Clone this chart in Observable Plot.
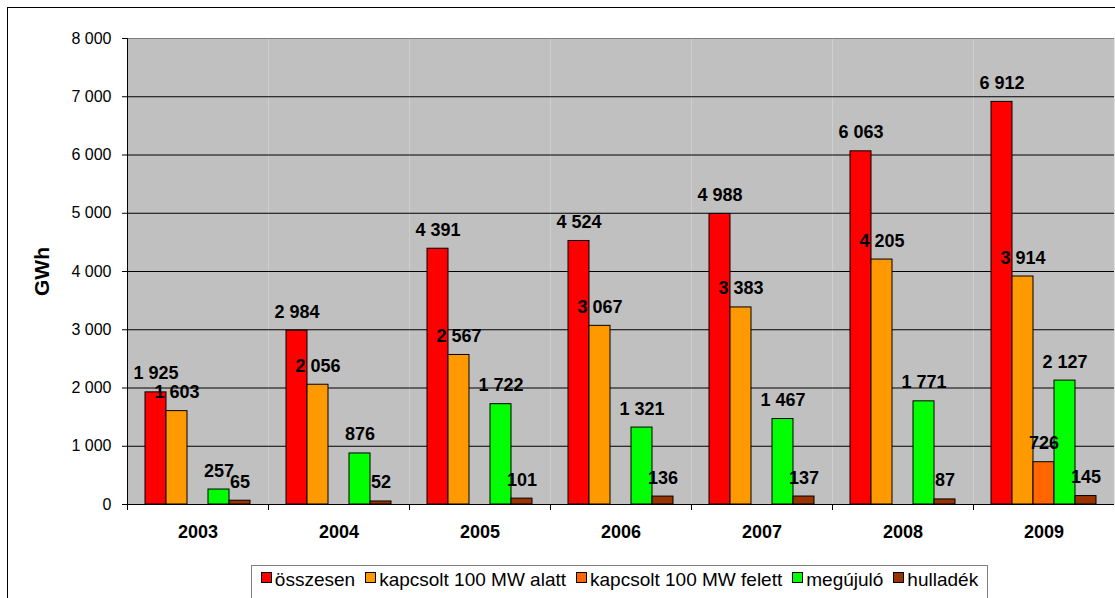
<!DOCTYPE html>
<html><head><meta charset="utf-8">
<script src="https://cdn.jsdelivr.net/npm/d3@7"></script>
<script src="https://cdn.jsdelivr.net/npm/@observablehq/plot@0.6"></script>
<style>
html,body{margin:0;padding:0;background:#fff;overflow:hidden;width:1115px;height:598px;}
#border{position:absolute;left:7px;top:7px;width:1300px;height:800px;border-left:1px solid #000;border-top:1px solid #000;}
#chart{position:absolute;left:0;top:0;}
#legend{position:absolute;left:251px;top:565px;width:737px;height:45px;border:1px solid #808080;background:#fff;box-sizing:border-box;display:flex;justify-content:center;align-items:flex-start;padding-top:3px;font:19px/22px "Liberation Sans",Arial,sans-serif;color:#000;white-space:nowrap;}
.item{display:flex;align-items:flex-start;margin:0 5px;}
.sw{display:inline-block;width:9px;height:9px;border:1px solid #000;margin-right:3px;margin-top:3px;}
</style>
</head><body>
<div id="border"></div>
<div id="chart"></div>
<div id="legend"></div>
<script>
const years = ["2003","2004","2005","2006","2007","2008","2009"];
const series = ["összesen","kapcsolt 100 MW alatt","kapcsolt 100 MW felett","megújuló","hulladék"];
const colors = ["#FF0000","#FF9900","#FF6600","#00FF00","#993300"];
const osszesen = [1925,2984,4391,4524,4988,6063,6912];
const alatt    = [1603,2056,2567,3067,3383,4205,3914];
const felett   = [0,0,0,0,0,0,726];
const megujulo = [257,876,1722,1321,1467,1771,2127];
const hulladek = [65,52,101,136,137,87,145];
const yTicks = [0,1000,2000,3000,4000,5000,6000,7000,8000];
const yLabel = "GWh";

const seriesValues = [osszesen, alatt, felett, megujulo, hulladek];
const data = [];
years.forEach((y, i) => series.forEach((s, j) => data.push({year: y, series: s, value: seriesValues[j][i]})));
const shown = data.filter(d => d.value > 0);
const fmt = v => d3.format(",")(v).replace(/,/g, "\u00a0");

const chart = Plot.plot({
  width: 1115, height: 550,
  marginLeft: 127, marginRight: 1, marginTop: 38, marginBottom: 46,
  style: {fontFamily: '"Liberation Sans", Arial, sans-serif', background: "transparent", overflow: "visible", color: "#000"},
  fx: {domain: years, padding: 0, label: null},
  x: {domain: series, paddingInner: 0, paddingOuter: 0.75, axis: null},
  y: {domain: [0, 8000], label: null},
  color: {domain: series, range: colors},
  marks: [
    Plot.frame({fill: "#c0c0c0", stroke: "none"}),
    Plot.ruleY(yTicks.filter(v => v > 0 && v < 8000), {stroke: "#000", strokeWidth: 1}),
    Plot.ruleY([8000], {stroke: "#808080"}),
    Plot.barY(shown, {fx: "year", x: "series", y: "value", fill: "series", stroke: "#000", strokeWidth: 1}),
    Plot.ruleY([0], {stroke: "#000"}),
    Plot.frame({anchor: "left", stroke: "#000", insetTop: 466, insetBottom: -5}),
    Plot.frame({anchor: "left", stroke: "#000", insetBottom: -5, facetAnchor: "left"}),
    Plot.axisY({ticks: yTicks, tickFormat: fmt, tickSize: 5, tickPadding: 11, fontSize: 16, label: null}),
    Plot.axisFx({anchor: "bottom", tickSize: 0, tickPadding: 21, fontSize: 18, fontWeight: "bold", label: null}),
    Plot.text(shown, {fx: "year", x: "series", y: "value", text: d => fmt(d.value), fontSize: 18, fontWeight: "bold", lineAnchor: "bottom", dy: -13, fill: "#000"}),
    Plot.text([{year: years[0], t: yLabel}], {fx: "year", text: "t", frameAnchor: "left", textAnchor: "middle", lineAnchor: "middle", rotate: -90, dx: -85, fontSize: 21, fontWeight: "bold", fill: "#000"})
  ]
});
document.getElementById("chart").appendChild(chart);

const legend = document.getElementById("legend");
series.forEach((s, i) => {
  const it = document.createElement("span");
  it.className = "item";
  const sw = document.createElement("span");
  sw.className = "sw";
  sw.style.background = colors[i];
  it.appendChild(sw);
  it.appendChild(document.createTextNode(s));
  legend.appendChild(it);
});
</script>
</body></html>
